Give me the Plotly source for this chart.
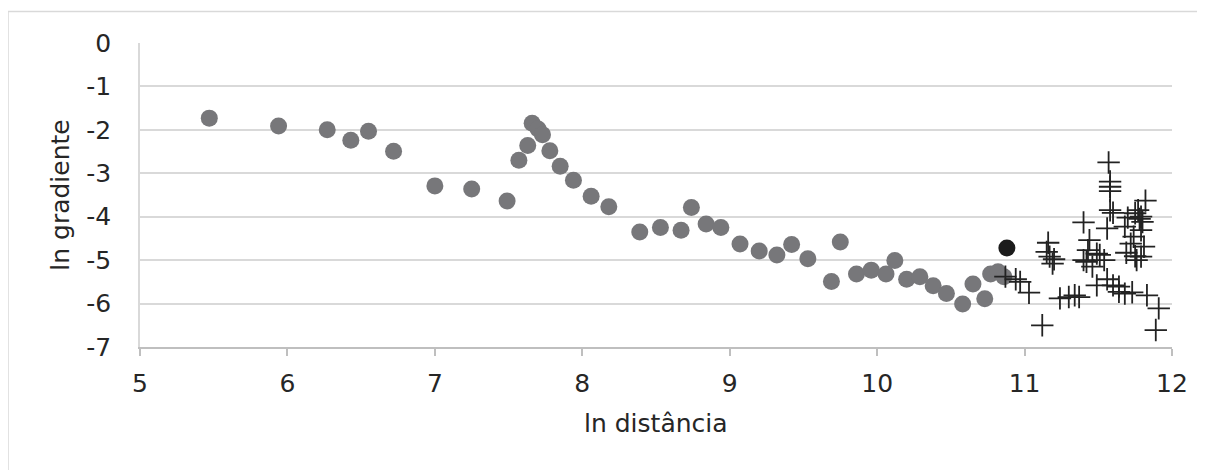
import plotly.graph_objects as go

# Grey circles (main series)
gray_x = [5.47, 5.94, 6.27, 6.43, 6.55, 6.72, 7.00, 7.25, 7.49, 7.57, 7.63, 7.66, 7.70, 7.73,
          7.78, 7.85, 7.94, 8.06, 8.18, 8.39, 8.53, 8.67, 8.74, 8.84, 8.94, 9.07, 9.20, 9.32,
          9.42, 9.53, 9.69, 9.75, 9.86, 9.96, 10.06, 10.12, 10.20, 10.29, 10.38, 10.47, 10.58,
          10.65, 10.73, 10.77, 10.82, 10.86]
gray_y = [-1.73, -1.91, -2.00, -2.24, -2.03, -2.49, -3.29, -3.36, -3.64, -2.70, -2.36, -1.85,
          -1.98, -2.11, -2.48, -2.84, -3.16, -3.53, -3.77, -4.35, -4.25, -4.31, -3.79, -4.17,
          -4.25, -4.63, -4.79, -4.88, -4.64, -4.97, -5.49, -4.58, -5.32, -5.23, -5.32, -5.01,
          -5.44, -5.38, -5.59, -5.77, -6.01, -5.55, -5.89, -5.32, -5.27, -5.38]

# Highlighted black point
black_x = [10.88]
black_y = [-4.72]

# Plus markers
plus_x = [10.87, 10.94, 10.97, 11.03, 11.12, 11.16, 11.15, 11.17, 11.20, 11.19, 11.24, 11.30,
          11.34, 11.37, 11.40, 11.44, 11.43, 11.40, 11.42, 11.46, 11.49, 11.51, 11.54, 11.49,
          11.56, 11.57, 11.58, 11.58, 11.58, 11.58, 11.60, 11.56, 11.60, 11.64, 11.64, 11.68,
          11.73, 11.68, 11.70, 11.72, 11.74, 11.69, 11.75, 11.76, 11.77, 11.79, 11.80, 11.82,
          11.79, 11.81, 11.79, 11.83, 11.91, 11.89, 11.75, 11.78]
plus_y = [-5.38, -5.44, -5.50, -5.75, -6.50, -4.60, -4.81, -4.92, -4.98, -5.08, -5.88, -5.85,
          -5.81, -5.85, -4.13, -4.54, -4.77, -5.00, -5.04, -5.15, -4.85, -4.88, -5.00, -5.58,
          -5.44, -2.75, -3.19, -3.31, -3.41, -3.85, -3.91, -4.27, -5.58, -5.61, -5.73, -5.77,
          -5.74, -4.23, -4.02, -4.62, -4.46, -4.83, -4.91, -5.00, -3.85, -4.00, -4.12, -3.63,
          -4.31, -4.69, -4.92, -5.81, -6.11, -6.61, -3.92, -4.05]

x_ticks = [5, 6, 7, 8, 9, 10, 11, 12]
x_tick_labels = ["5", "6", "7", "8", "9", "10", "11", "12"]
y_ticks = [0, -1, -2, -3, -4, -5, -6, -7]
y_tick_labels = ["0", "-1", "-2", "-3", "-4", "-5", "-6", "-7"]

font = "DejaVu Sans"
txt = "#262626"
FS = 25

# page body adds an 8px offset; compensate
W, H = 1197, 462
L, T = 132, 35
PW, PH = 1032, 304
R = W - L - PW
B = H - T - PH

fig = go.Figure()
fig.add_trace(go.Scatter(x=gray_x, y=gray_y, mode="markers",
                         marker=dict(size=17, color="#77777a", line=dict(width=0)),
                         showlegend=False))
fig.add_trace(go.Scatter(x=plus_x, y=plus_y, mode="markers",
                         marker=dict(size=16, symbol="cross-thin-open", color="#222222",
                                     line=dict(width=1.8, color="#222222")),
                         showlegend=False))
fig.add_trace(go.Scatter(x=black_x, y=black_y, mode="markers",
                         marker=dict(size=17, color="#1b1b1b", line=dict(width=0)),
                         showlegend=False))

fig.update_layout(
    width=W, height=H,
    margin=dict(l=L, r=R, t=T, b=B, autoexpand=False),
    paper_bgcolor="white", plot_bgcolor="white",
    font=dict(family=font, size=FS, color=txt),
    xaxis=dict(range=[5, 12], tickvals=x_ticks, ticktext=x_tick_labels,
               showgrid=False, zeroline=False, automargin=False,
               showline=True, linecolor="#bfbfbf", linewidth=1.5,
               ticks="outside", ticklen=7, tickcolor="#bfbfbf", tickwidth=1.5,
               ticklabelstandoff=6,
               tickfont=dict(family=font, size=FS, color=txt)),
    yaxis=dict(range=[-7, 0], tickvals=y_ticks, ticktext=y_tick_labels,
               showgrid=True, gridcolor="#d9d9d9", automargin=False,
               gridwidth=1.5, zeroline=False, showline=True, linecolor="#d9d9d9",
               linewidth=1.5, ticks="", ticklen=0, ticklabelstandoff=22,
               tickfont=dict(family=font, size=FS, color=txt),
               title=dict(text="ln gradiente", font=dict(family=font, size=FS, color=txt),
                          standoff=10)),
    annotations=[dict(text="ln distância", xref="paper", yref="paper",
                      x=0.5, y=(T + PH - 415) / PH, xanchor="center", yanchor="middle",
                      showarrow=False, font=dict(family=font, size=FS, color=txt))],
    shapes=[dict(type="rect", xref="paper", yref="paper",
                 x0=(0 - L) / PW, x1=(W + 20 - L) / PW,
                 y0=(T + PH - (H + 20)) / PH, y1=(T + PH - 3.5) / PH,
                 line=dict(color="#d9d9d9", width=1.5), layer="below")],
)

fig.write_html("out.html")
